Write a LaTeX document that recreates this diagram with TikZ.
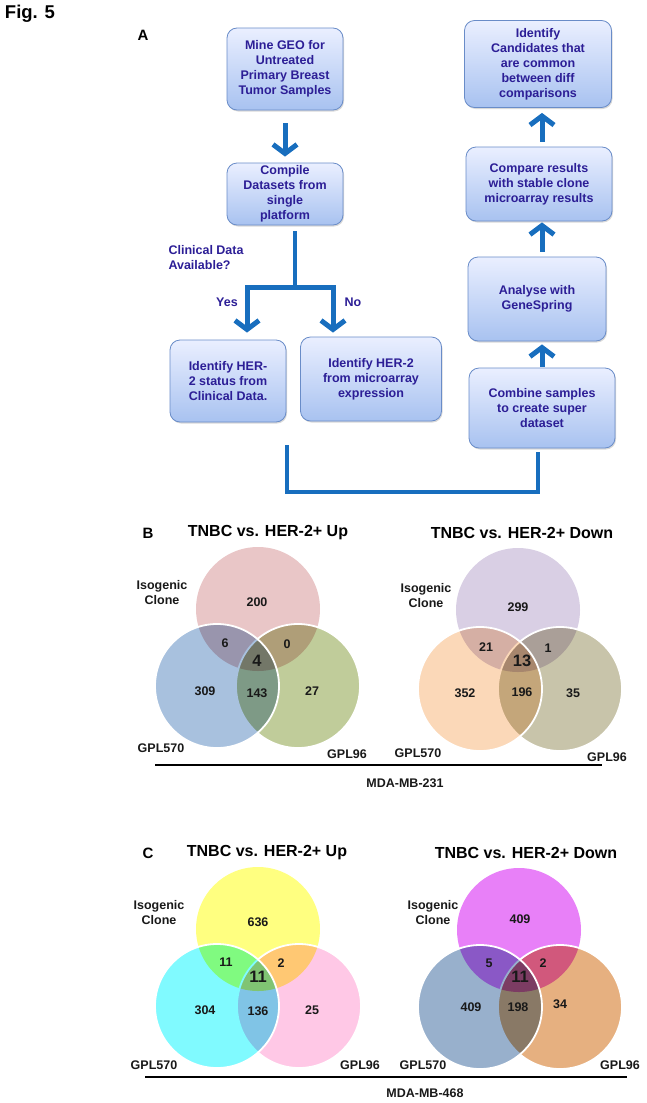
\documentclass[tikz,border=0pt]{standalone}
\usepackage{fontspec}
\setmainfont{Liberation Sans}
\usetikzlibrary{arrows.meta,shadows}

\definecolor{boxtext}{RGB}{44,30,150}
\definecolor{flowblue}{RGB}{24,110,190}
\definecolor{boxtop}{RGB}{234,239,255}
\definecolor{boxbot}{RGB}{168,194,240}
\definecolor{boxline}{RGB}{105,140,200}
% venn colours
\definecolor{bupink}{RGB}{233,198,199}
\definecolor{bublue}{RGB}{168,193,222}
\definecolor{bugreen}{RGB}{192,204,154}
\definecolor{bdlilac}{RGB}{217,207,228}
\definecolor{bdpeach}{RGB}{251,216,184}
\definecolor{bdkhaki}{RGB}{200,196,170}
\definecolor{cuyellow}{RGB}{255,255,128}
\definecolor{cucyan}{RGB}{128,250,255}
\definecolor{cupink}{RGB}{255,200,230}
\definecolor{cdmagenta}{RGB}{232,128,248}
\definecolor{cdblue}{RGB}{152,176,204}
\definecolor{cdorange}{RGB}{230,176,128}

\begin{document}
\begin{tikzpicture}[
  x=1pt, y=-1pt,
  stepbox/.style={draw=boxline, line width=0.8pt, rounded corners=10pt,
    top color=boxtop, bottom color=boxbot, text=boxtext, align=center,
    font=\fontsize{12.5}{15}\selectfont\bfseries, inner sep=2pt,
    drop shadow={opacity=0.3, shadow xshift=1pt, shadow yshift=-1.5pt}},
  flow/.style={draw=flowblue, line width=5pt, -{Straight Barb[length=9pt,width=24pt]}},
  branch/.style={draw=flowblue, line width=4.5pt},
  qtxt/.style={text=boxtext, font=\fontsize{12.5}{15}\selectfont\bfseries, align=left},
  panel/.style={font=\fontsize{15}{18}\selectfont\bfseries},
  vtitle/.style={font=\fontsize{16}{18}\selectfont\bfseries},
  vtxt/.style={font=\fontsize{12.5}{15}\selectfont\bfseries, align=center, text=black!90},
  vbig/.style={font=\fontsize{16.5}{18}\selectfont\bfseries, text=black!90},
  vline/.style={draw=white, line width=1.8pt}
]
\useasboundingbox (0,0) rectangle (646,1103);

\node[font=\fontsize{18.5}{20}\selectfont\bfseries] (fig) at (30,14) {Fig. 5};

% --- A: flow chart ---
\node[panel] (pa) at (143,35) {A};

\node[stepbox, minimum width=116pt, minimum height=82pt] (mine) at (285,69)
  {Mine GEO for\\Untreated\\Primary Breast\\Tumor Samples};
\node[stepbox, minimum width=116pt, minimum height=62pt] (comp) at (285,194)
  {Compile\\Datasets from\\single\\platform};
\node[stepbox, minimum width=116pt, minimum height=82pt] (clin) at (228,381)
  {Identify HER-\\2 status from\\Clinical Data.};
\node[stepbox, minimum width=141pt, minimum height=84pt] (micro) at (371,379)
  {Identify HER-2\\from microarray\\expression};

\node[stepbox, minimum width=147pt, minimum height=87pt] (cand) at (538,64)
  {Identify\\Candidates that\\are common\\between diff\\comparisons};
\node[stepbox, minimum width=146pt, minimum height=74pt] (cmpr) at (539,184)
  {Compare results\\with stable clone\\microarray results};
\node[stepbox, minimum width=138pt, minimum height=84pt] (gene) at (537,299)
  {Analyse with\\GeneSpring};
\node[stepbox, minimum width=146pt, minimum height=80pt] (comb) at (542,408)
  {Combine samples\\to create super\\dataset};

\node[qtxt, anchor=west] (avail) at (165,258) {Clinical Data\\Available?};
\node[qtxt] (yes) at (227,302) {Yes};
\node[qtxt] (no) at (353,302) {No};

\coordinate (split) at (295,287);
\coordinate (yesx) at (247,287);
\coordinate (nox) at (333,287);
\coordinate (j1) at (287,445);
\coordinate (jb) at (287,492);
\coordinate (j2) at (538,452);

\draw[flow, shorten <=13pt, shorten >=6pt] (mine) -- (comp);
\draw[branch, shorten <=6pt] (comp.south -| split) -- (split);
\draw[flow, shorten >=7pt] (split) -| (clin.north -| yesx);
\draw[flow, shorten >=4pt] (split) -| (micro.north -| nox);

\draw[flow, shorten <=1pt, shorten >=3pt] (comb.north) -- (comb.north |- gene.south);
\draw[flow, shorten <=5pt, shorten >=1pt] (comb.north |- gene.north) -- (comb.north |- cmpr.south);
\draw[flow, shorten <=5pt, shorten >=5pt] (comb.north |- cmpr.north) -- (comb.north |- cand.south);

\draw[branch] (j1) -- (jb) -| (j2);

% --- B: MDA-MB-231 ---
\node[panel] (pb) at (148,533) {B};
\node[vtitle] (bupt) at (268,533) {TNBC vs. HER-2+ Up};
\node[vtitle] (bdnt) at (522,533) {TNBC vs. HER-2+ Down};

\begin{scope}[blend mode=multiply]
  \fill[bupink] (258,609) circle (62pt);
  \fill[bugreen] (298,686) circle (62pt);
\end{scope}
\draw[vline] (298,686) circle (62pt);
\fill[bublue, blend mode=multiply] (217,686) circle (62pt);
\draw[vline] (217,686) circle (62pt);

\begin{scope}[blend mode=multiply]
  \fill[bdlilac] (518,610) circle (62pt);
  \fill[bdkhaki] (560,689) circle (62pt);
\end{scope}
\draw[vline] (560,689) circle (62pt);
\fill[bdpeach, blend mode=multiply] (480,689) circle (62pt);
\draw[vline] (480,689) circle (62pt);

\node[vtxt] (buiso) at (162,593) {Isogenic\\Clone};
\node[vtxt] (bua) at (257,602) {200};
\node[vtxt] (bub) at (225,643) {6};
\node[vtxt] (buc) at (287,644) {0};
\node[vbig] (bud) at (257,661) {4};
\node[vtxt] (bue) at (205,691) {309};
\node[vtxt] (buf) at (257,693) {143};
\node[vtxt] (bug) at (312,691) {27};
\node[vtxt] (bugpa) at (161,748) {GPL570};
\node[vtxt] (bugpb) at (347,754) {GPL96};

\node[vtxt] (bdiso) at (426,596) {Isogenic\\Clone};
\node[vtxt] (bda) at (518,607) {299};
\node[vtxt] (bdb) at (486,647) {21};
\node[vtxt] (bdc) at (548,648) {1};
\node[vbig] (bdd) at (522,661) {13};
\node[vtxt] (bde) at (465,693) {352};
\node[vtxt] (bdf) at (522,692) {196};
\node[vtxt] (bdg) at (573,693) {35};
\node[vtxt] (bdgpa) at (418,753) {GPL570};
\node[vtxt] (bdgpb) at (607,757) {GPL96};

\coordinate (bl1) at (155,765);
\coordinate (bl2) at (602,765);
\draw[line width=2pt] (bl1) -- (bl2);
\node[vtxt] (bcell) at (405,783) {MDA-MB-231};

% --- C: MDA-MB-468 ---
\node[panel] (pc) at (148,853) {C};
\node[vtitle] (cupt) at (267,853) {TNBC vs. HER-2+ Up};
\node[vtitle] (cdnt) at (526,853) {TNBC vs. HER-2+ Down};

\begin{scope}[blend mode=multiply]
  \fill[cuyellow] (258,929) circle (62pt);
  \fill[cupink] (299,1006) circle (62pt);
\end{scope}
\draw[vline] (299,1006) circle (62pt);
\fill[cucyan, blend mode=multiply] (217,1006) circle (62pt);
\draw[vline] (217,1006) circle (62pt);

\begin{scope}[blend mode=multiply]
  \fill[cdmagenta] (519,930) circle (62pt);
  \fill[cdorange] (560,1007) circle (62pt);
\end{scope}
\draw[vline] (560,1007) circle (62pt);
\fill[cdblue, blend mode=multiply] (480,1007) circle (62pt);
\draw[vline] (480,1007) circle (62pt);

\node[vtxt] (cuiso) at (159,913) {Isogenic\\Clone};
\node[vtxt] (cua) at (258,922) {636};
\node[vtxt] (cub) at (226,962) {11};
\node[vtxt] (cuc) at (281,963) {2};
\node[vbig] (cud) at (258,977) {11};
\node[vtxt] (cue) at (205,1010) {304};
\node[vtxt] (cuf) at (258,1011) {136};
\node[vtxt] (cug) at (312,1010) {25};
\node[vtxt] (cugpa) at (154,1065) {GPL570};
\node[vtxt] (cugpb) at (360,1065) {GPL96};

\node[vtxt] (cdiso) at (433,913) {Isogenic\\Clone};
\node[vtxt] (cda) at (520,919) {409};
\node[vtxt] (cdb) at (489,963) {5};
\node[vtxt] (cdc) at (543,963) {2};
\node[vbig] (cdd) at (520,977) {11};
\node[vtxt] (cde) at (471,1007) {409};
\node[vtxt] (cdf) at (518,1007) {198};
\node[vtxt] (cdg) at (560,1004) {34};
\node[vtxt] (cdgpa) at (423,1065) {GPL570};
\node[vtxt] (cdgpb) at (620,1065) {GPL96};

\coordinate (cl1) at (145,1077);
\coordinate (cl2) at (627,1077);
\draw[line width=2pt] (cl1) -- (cl2);
\node[vtxt] (ccell) at (425,1093) {MDA-MB-468};

\end{tikzpicture}
\end{document}
